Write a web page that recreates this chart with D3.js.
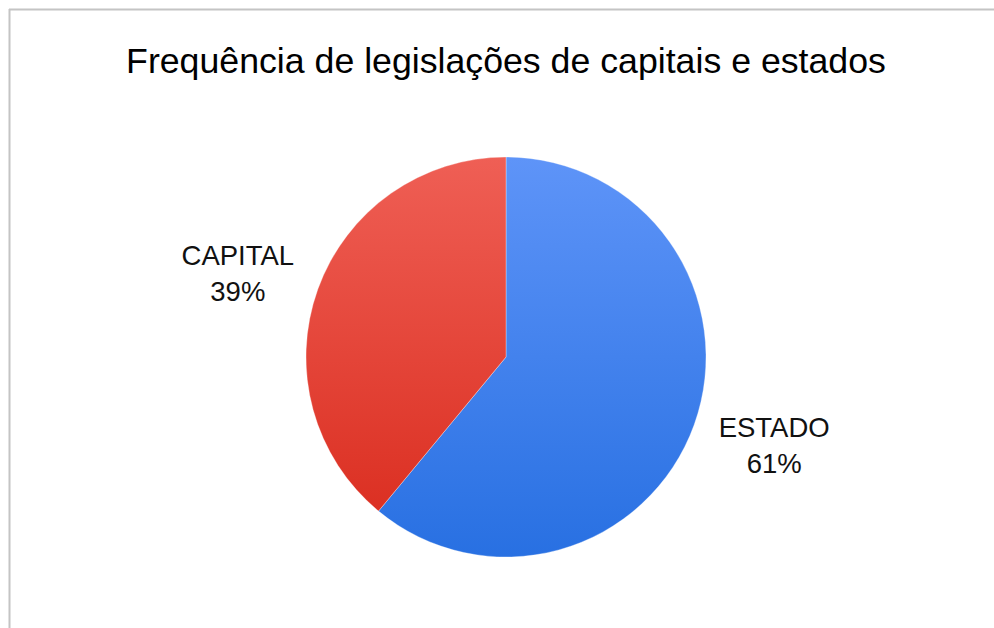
<!DOCTYPE html>
<html>
<head>
<meta charset="utf-8">
<script src="https://cdn.jsdelivr.net/npm/d3@7"></script>
<style>
  html, body { margin: 0; padding: 0; background: #fff; }
  svg { display: block; }
</style>
</head>
<body>
<svg id="chart" width="994" height="628"></svg>
<script>
const title = "Frequência de legislações de capitais e estados";
const categories = ["ESTADO", "CAPITAL"];
const values = [61, 39];
const labels = ["61%", "39%"];

const W = 994, H = 628;
const cx = 506, cy = 357, R = 200;
const svg = d3.select("#chart");

// frame (top and left borders)
svg.append("line").attr("x1", 9).attr("x2", W).attr("y1", 9.5).attr("y2", 9.5)
  .attr("stroke", "#c4c4c4").attr("stroke-width", 2);
svg.append("line").attr("x1", 9.5).attr("x2", 9.5).attr("y1", 9).attr("y2", H)
  .attr("stroke", "#c4c4c4").attr("stroke-width", 2);

const defs = svg.append("defs");
const grads = [
  { id: "gBlue", top: "#5e94f8", bottom: "#2870e2" },
  { id: "gRed", top: "#ef5f55", bottom: "#d92a1c" }
];
grads.forEach(g => {
  const lg = defs.append("linearGradient").attr("id", g.id)
    .attr("gradientUnits", "userSpaceOnUse")
    .attr("x1", 0).attr("x2", 0).attr("y1", -R).attr("y2", R);
  lg.append("stop").attr("offset", "0%").attr("stop-color", g.top);
  lg.append("stop").attr("offset", "100%").attr("stop-color", g.bottom);
});
const fills = ["url(#gBlue)", "url(#gRed)"];

svg.append("text")
  .attr("x", 506).attr("y", 73)
  .attr("text-anchor", "middle")
  .attr("font-family", "Liberation Sans, Arial, sans-serif")
  .attr("font-size", 35.7)
  .attr("fill", "#000")
  .text(title);

const pie = d3.pie().sort(null).value(d => d)(values);
const arc = d3.arc().innerRadius(0).outerRadius(R);

const g = svg.append("g").attr("transform", `translate(${cx},${cy})`);
g.selectAll("path").data(pie).join("path")
  .attr("d", arc)
  .attr("fill", (d, i) => fills[i])
  .attr("stroke", "#ffffff")
  .attr("stroke-opacity", 0.4)
  .attr("stroke-width", 0.8);

// labels outside slices
const rx = 285, ry = 255;
pie.forEach((d, i) => {
  const a = (d.startAngle + d.endAngle) / 2;
  const lx = Math.sin(a) * rx;
  const ly = -Math.cos(a) * ry;
  const t = g.append("text")
    .attr("text-anchor", "middle")
    .attr("font-family", "Liberation Sans, Arial, sans-serif")
    .attr("font-size", 27.5)
    .attr("fill", "#111");
  t.append("tspan").attr("x", lx).attr("y", ly - 6).text(categories[i]);
  t.append("tspan").attr("x", lx).attr("y", ly + 30).text(labels[i]);
});
</script>
</body>
</html>
